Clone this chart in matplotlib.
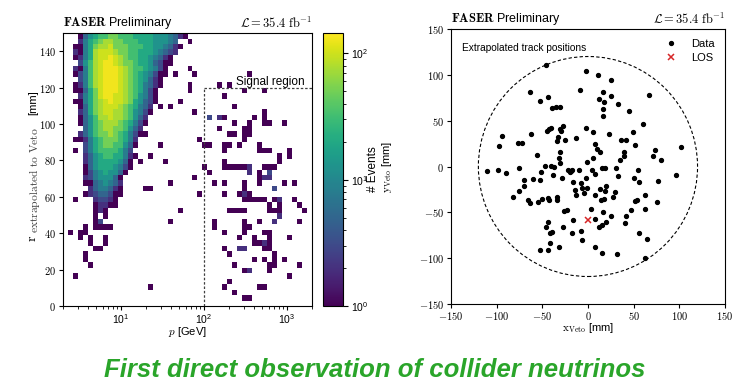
import numpy as np
import matplotlib
matplotlib.use('Agg')
import matplotlib.pyplot as plt
from matplotlib.colors import LogNorm
from matplotlib.patches import Circle
from matplotlib.ticker import FuncFormatter

plt.rcParams['font.family'] = ['Liberation Sans', 'DejaVu Sans']
plt.rcParams['mathtext.fontset'] = 'cm'

# left panel: track momentum vs radius at the veto, 50 log bins in p, 50 bins in r
p_edges = np.logspace(np.log10(2), np.log10(2000), 51)
r_edges = np.linspace(0, 150, 51)

# approximate events per bin for each character
level_counts = {'.': 0, '1': 1, '2': 2, '3': 3, '4': 5, '5': 8, '6': 13,
                '7': 20, '8': 32, '9': 50, 'a': 75, 'b': 100, 'c': 130}

# one string per r bin, top row (147-150 mm) first, p increasing to the right
hist_rows = [
    "...1467889 9888777766 65421..... .......... ..........",
    "...25789aa 9988877766 654..1.... .......... ..........",
    "..11579aab 9998887766 5421...... .......... ..........",
    "..2157abbb a998877765 432....... .......... ..........",
    "..1257abbc ba98877654 21........ .......... ..........",
    "...368abcc ba99877643 11........ .......... ..........",
    "..2158abcc cba9887653 1....1.... .......... ..........",
    "..1358abcc cba9876531 1.1...1... .......1.. ..........",
    "...358abcc cba9876421 .......... .......... ..........",
    "..1258abcc cba9875421 .....1.... .1.1...... ..........",
    "..11479bcc cba987531. .....1.... ......1... 1.........",
    "...2579bcc bba986531. .......... ..1....... ..........",
    "..11579abc bba976431. ...1...... .......... ..........",
    "...1479abb ba987542.1 .1........ ....1..... ..........",
    "...2479abb aa986531.. ......1... .......... 1.........",
    "...1468aab aa98642... .........3 .21.....1. 1.........",
    "...14689aa a987531... .......... ....1..1.. 11..1.....",
    "....4689aa 998642.... .......... .1....11.. ..........",
    "...246899a 9875311... .......... ...11.11.. ..........",
    "..11257899 98752..... .......1.. ......1... ..........",
    "....357899 88641....1 ........11 ..11.1...1 ..........",
    "..1.357888 8753...... .......... ..1......1 11...1....",
    "....246788 77521..1.. .......... .......... ...1.1....",
    "....246777 7641.1.... 1......... ..1....... ...1......",
    "....146777 6531...... ........1. ..111112.. 111.......",
    "....135676 641....... .........1 .......2.1 .3........",
    "....235666 41........ ......1... .........1 22........",
    "....114565 42........ .1........ 1.1...1..1 ....1.1...",
    ".....24554 21....11.. .......... ......1... ..3.......",
    "....123443 11........ .......1.. ..1..121.. ..........",
    "..1...2332 1......... .......... ......1111 1.12..1...",
    "......1221 1......... .......... .......... .1.1...1..",
    "......121. .......... ...1...... ...1111... .111....1.",
    "......1.1. .......... .......... .......... ...2......",
    "......13.. .......... .1........ 1.....1..1 ..2....1..",
    "....1.1111 .......... .......... 1.....11.. ..........",
    ".1.11..... .......... .......... ..1...1... 11........",
    "...1.1..1. .......... .......... .....1..1. .1...1....",
    ".....1..1. .......... .......... ........11 21........",
    "......11.. .......... .......... ..1..22... 11........",
    "....1..... .......... .......... ...1...... ..1.......",
    "....1..... .......... .......... ........1. 1.1.1.....",
    ".....1.... .......... .......... ....1..... .11....1..",
    ".......... .......... .......... ......12.. .1........",
    "..1....... .......... .......... .......... .....1....",
    ".......... .......... .......... ...1...... ..........",
    ".......... .......1.. .......... ..1......1 1.........",
    ".......... .......... .......... ....1..... ..........",
    ".......... .......... .......... ......11.. ..........",
    ".......... .......... .......... .......... ..........",
]

# right panel: extrapolated track positions (mm)
track_x = [-46, -2, 11, 25, -9, 16, -64, -44, -52, 25, 12, 67, 18, 33, -39, -35,
           -31, 16, 17, 45, 60, -62, -45, -43, -41, -31, -29, -27, -2, 5, 49, 23,
           -94, -97, -77, -72, -33, -34, -25, -13, 8, 36, 42, 10, 13, 39, 39, 52,
           73, 71, 102, -56, -31, 6, 35, 80, -111, -99, -90, -76, -47, -51, -40, -37,
           -31, -28, -22, -20, -19, -17, -10, -1, 4, 8, 15, 19, 31, 33, -2, 55,
           50, 56, 96, 77, -70, -70, -60, -53, -76, -82, -66, -64, -55, -50, -44, -43,
           -34, -34, -16, -14, -13, -8, -6, -4, -1, 8, 13, 20, 19, 18, 27, 14,
           62, 51, 54, 76, 62, 47, 42, 41, 25, 16, 3, -26, -23, -16, -27, -46,
           -44, -42, -39, -42, -32, -52, -44, -17, -8, -7, 8, 12, 15, 20, 8, 15,
           32, 56, 65, 62, 30, -32, -38]
track_y = [111, 104, 100, 94, 84, 81, 81, 76, 71, 77, 74, 78, 70, 68, 64, 65,
           65, 63, 55, 61, 46, 36, 39, 41, 42, 41, 39, 44, 42, 38, 38, 35,
           33, 22, 26, 26, 32, 28, 29, 31, 25, 29, 29, 19, 16, 16, 12, 23,
           18, 12, 21, 13, 16, 9, 7, 7, -5, -4, -7, -2, 1, -6, 1, 0,
           4, -12, -4, -6, -5, -4, -4, 5, -4, -8, -2, -2, -2, -10, -12, -4,
           -12, -17, -9, -16, -15, -21, -14, -15, -27, -33, -36, -40, -39, -35, -34, -37,
           -33, -36, -17, -26, -31, -18, -23, -29, -23, -31, -24, -21, -27, -35, -33, -36,
           -31, -38, -36, -39, -46, -47, -54, -62, -54, -50, -46, -48, -47, -58, -66, -66,
           -61, -73, -71, -83, -88, -91, -91, -73, -70, -80, -57, -66, -64, -60, -88, -94,
           -95, -72, -79, -100, -28, 9, -9]
los_x = [0]
los_y = [-58]
fiducial_radius = 120

counts = np.array([[level_counts[c] for c in row.replace(' ', '')]
                   for row in hist_rows[::-1]], dtype=float)
counts = np.ma.masked_equal(counts, 0)

fig = plt.figure(figsize=(7.5, 3.91), dpi=100)
ax1 = fig.add_axes([0.084, 0.2174, 0.332, 0.698])
cax = fig.add_axes([0.4307, 0.2174, 0.0267, 0.698])
ax2 = fig.add_axes([0.6013, 0.2225, 0.3653, 0.7033])

mesh = ax1.pcolormesh(p_edges, r_edges, counts, cmap='viridis',
                      norm=LogNorm(vmin=1, vmax=145))
ax1.set_xscale('log')
ax1.set_xlim(2, 2000)
ax1.set_ylim(0, 150)
ax1.set_yticks(range(0, 141, 20))
ax1.yaxis.set_major_formatter(FuncFormatter(lambda v, pos: f'${v:.0f}$'))
ax1.plot([100, 100], [0, 120], color='0.25', lw=0.9, ls=(0, (2, 1.5)))
ax1.plot([100, 2000], [120, 120], color='0.25', lw=0.9, ls=(0, (2, 1.5)))
ax1.text(243, 121.5, 'Signal region', fontsize=8.5, va='baseline', ha='left')
ax1.set_xlabel('$p$ [GeV]', fontsize=8, labelpad=-1)
# y label: r with a long roman subscript, then the unit
fig.text(0.042, 0.390, r'$\mathrm{r}$', rotation=90, fontsize=10,
         ha='center', va='center')
fig.text(0.046, 0.540, r'$\mathrm{extrapolated\ to\ Veto}$', rotation=90,
         fontsize=8.3, ha='center', va='center', color='0.25')
fig.text(0.044, 0.738, '[mm]', rotation=90, fontsize=8, ha='center', va='center')
ax1.text(0, 1.008, r'$\mathbf{FASER}$ Preliminary', transform=ax1.transAxes,
         fontsize=9, va='bottom', ha='left')
ax1.text(1, 1.008, r'$\mathcal{L} = 35.4\ \mathrm{fb}^{-1}$', transform=ax1.transAxes,
         fontsize=9, va='bottom', ha='right')

cb = fig.colorbar(mesh, cax=cax)
cb.set_label('# Events', fontsize=8.5, labelpad=-1)
cb.outline.set_linewidth(0.8)
cax.tick_params(labelsize=7.5, pad=2)

ax2.plot(track_x, track_y, 'o', color='black', ms=2.8, label='Data')
ax2.plot(los_x, los_y, 'x', color='#d62728', ms=5, mew=1.1, label='LOS')
ax2.add_patch(Circle((0, 0), fiducial_radius, fill=False, color='black',
                     lw=0.8, ls=(0, (3, 2))))
ax2.set_xlim(-150, 150)
ax2.set_ylim(-150, 150)
ax2.set_xticks(range(-150, 151, 50))
ax2.set_yticks(range(-150, 151, 50))
fmt = FuncFormatter(lambda v, pos: f'${v:.0f}$')
ax2.xaxis.set_major_formatter(fmt)
ax2.yaxis.set_major_formatter(fmt)
ax2.set_xlabel(r'$\mathrm{x_{Veto}}$ [mm]', fontsize=8, labelpad=-1)
ax2.set_ylabel(r'$\mathrm{y_{Veto}}$ [mm]', fontsize=8, labelpad=18)
ax2.text(0.04, 0.93, 'Extrapolated track positions', transform=ax2.transAxes,
         fontsize=7.3, va='center', ha='left')
ax2.legend(loc='upper right', frameon=False, fontsize=8, handletextpad=0.8,
           borderaxespad=0.5, labelspacing=0.35)
ax2.text(0, 1.008, r'$\mathbf{FASER}$ Preliminary', transform=ax2.transAxes,
         fontsize=9, va='bottom', ha='left')
ax2.text(1, 1.008, r'$\mathcal{L} = 35.4\ \mathrm{fb}^{-1}$', transform=ax2.transAxes,
         fontsize=9, va='bottom', ha='right')

for ax in (ax1, ax2):
    ax.tick_params(labelsize=7.5, pad=2, length=3)
    ax.tick_params(axis='x', pad=1.5)
ax1.tick_params(which='minor', length=1.8)

fig.text(0.5, 0.036, 'First direct observation of collider neutrinos',
         ha='center', va='baseline', fontsize=18.5, fontweight='bold',
         fontstyle='italic', color='#2aa52a')

fig.savefig('out.png', dpi=100)
